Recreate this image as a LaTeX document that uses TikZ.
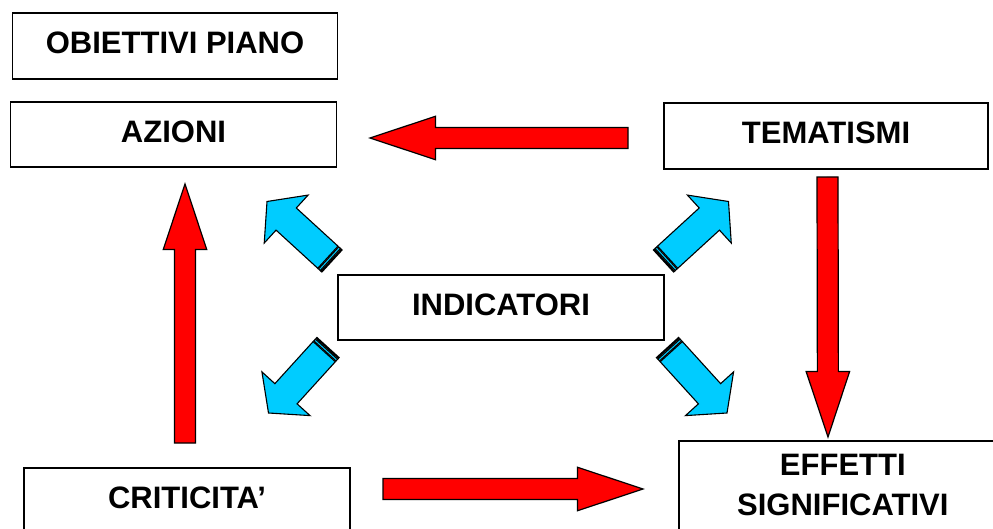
\documentclass[tikz,border=0pt]{standalone}
\usepackage{fontspec}
\setmainfont{Liberation Sans}
\usepackage[rgb]{xcolor}
\usetikzlibrary{calc}

\definecolor{arrowred}{RGB}{255,0,0}
\definecolor{arrowcyan}{RGB}{0,204,255}

\tikzset{
    box/.style={draw, line width=1.6pt, fill=white, minimum width=326pt, minimum height=65pt,
        inner sep=0pt, text depth=6pt, font=\fontsize{31}{40}\selectfont\bfseries},
    redarrow/.style={draw=black, fill=arrowred, line width=1.2pt, line join=miter},
    cyanarrow/.style={draw=black, fill=arrowcyan, line width=1.1pt, line join=miter}
}

% style, tail, tip, shaft half width, head half width, head length
\newcommand{\blockarrow}[6]{%
    \draw[#1] ($(#2)!#4!90:(#3)$)
        -- ($(#3)!#6!(#2)!#4!-90:(#2)$)
        -- ($(#3)!#6!(#2)!#5!-90:(#2)$)
        -- (#3)
        -- ($(#3)!#6!(#2)!#5!90:(#2)$)
        -- ($(#3)!#6!(#2)!#4!90:(#2)$)
        -- ($(#2)!#4!-90:(#3)$) -- cycle;}

\newcommand{\stripedarrow}[2]{%
    \foreach \s/\e in {0pt/1.2pt, 2.2pt/4.6pt}
        \draw[cyanarrow] ($(#1)!\s!(#2)!15pt!90:(#2)$) -- ($(#1)!\e!(#2)!15pt!90:(#2)$)
            -- ($(#1)!\e!(#2)!15pt!-90:(#2)$) -- ($(#1)!\s!(#2)!15pt!-90:(#2)$) -- cycle;
    \coordinate (#1s) at ($(#1)!5.6pt!(#2)$);
    \blockarrow{cyanarrow}{#1s}{#2}{15pt}{32.5pt}{26pt}}

\begin{document}
\begin{tikzpicture}[x=1pt, y=-1pt]
    \useasboundingbox (0,0) rectangle (993,529);

    \node[box, minimum width=325pt, minimum height=66pt] (obiettivi) at (175,46) {OBIETTIVI PIANO};
    \node[box] (azioni) at (173.5,134.5) {AZIONI};
    \node[box, minimum width=324pt, minimum height=66pt] (tematismi) at (826,136) {TEMATISMI};
    \node[box] (indicatori) at (501,307.5) {INDICATORI};
    \node[box] (criticita) at (187,500.5) {CRITICITA’};
    \node[box, anchor=north west, align=center, minimum width=328pt, minimum height=100pt,
        text depth=12pt] (effetti) at (678,440) {EFFETTI\\SIGNIFICATIVI};

    \coordinate (tem1) at (628,138);
    \coordinate (az1) at (370,138);
    \coordinate (cr1) at (185,443);
    \coordinate (az2) at (185,184);
    \coordinate (tem2) at (827.5,177);
    \coordinate (ef1) at (828,437);
    \coordinate (cr2) at (383,489);
    \coordinate (ef2) at (643,489);

    \blockarrow{redarrow}{tem1}{az1}{10.5pt}{21.75pt}{65.5pt}
    \blockarrow{redarrow}{cr1}{az2}{10.5pt}{21.75pt}{65.5pt}
    \blockarrow{redarrow}{tem2}{ef1}{10.5pt}{21.75pt}{65.5pt}
    \blockarrow{redarrow}{cr2}{ef2}{10.5pt}{21.75pt}{65.5pt}

    \coordinate (in1) at (332,261);
    \coordinate (az3) at (267,201.5);
    \coordinate (in2) at (663.5,261);
    \coordinate (tem3) at (728.5,201.5);
    \coordinate (in3) at (328,347.5);
    \coordinate (cr3) at (268.5,413);
    \coordinate (in4) at (667.5,347.5);
    \coordinate (ef3) at (727,413);

    \stripedarrow{in1}{az3}
    \stripedarrow{in2}{tem3}
    \stripedarrow{in3}{cr3}
    \stripedarrow{in4}{ef3}

\end{tikzpicture}
\end{document}
